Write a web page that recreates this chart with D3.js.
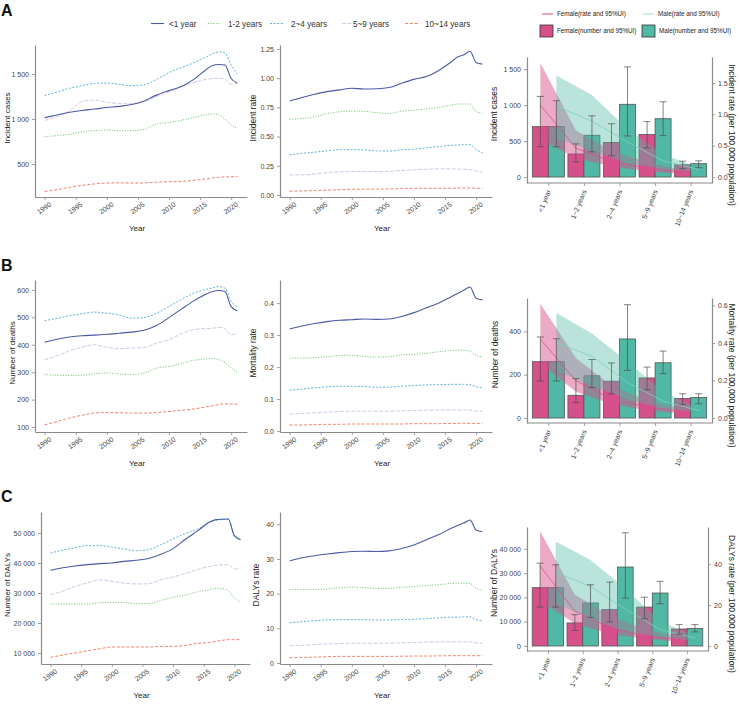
<!DOCTYPE html>
<html><head><meta charset="utf-8">
<script src="https://cdn.jsdelivr.net/npm/d3@7"></script>
<style>
body{margin:0;background:#fff}
svg{font-family:"Liberation Sans",Arial,Helvetica,sans-serif}
</style>
</head><body>
<svg id="c" width="740" height="705"></svg>
<script>
// ---------------- DATA ----------------
const years = [1990,1992,1994,1996,1998,2000,2002,2004,2006,2008,2010,2012,2014,2016,2017,2018,2019,2020,2021];
const yearTicks = [1990,1995,2000,2005,2010,2015,2020];
const ageGroups = ["<1 year","1-2 years","2~4 years","5~9 years","10~14 years"];
const barCategories = ["<1 year","1~2 years","2~4 years","5~9 years","10~14 years"];

// Row A: incidence (order = ageGroups)
const incidentCases = [
  [1015,1045,1075,1095,1110,1127,1140,1160,1200,1265,1315,1360,1440,1550,1595,1605,1600,1450,1400],
  [802,815,830,858,872,877,869,870,884,945,962,985,1015,1050,1055,1048,1000,935,896],
  [1261,1300,1340,1370,1395,1399,1385,1370,1380,1440,1515,1570,1625,1690,1725,1745,1735,1600,1500],
  [985,1025,1090,1195,1210,1185,1172,1168,1190,1250,1300,1360,1405,1440,1450,1455,1445,1385,1400],
  [194,215,240,262,278,288,290,288,290,298,303,306,318,335,345,352,355,358,362]
];
const incidentRate = [
  [0.805,0.835,0.862,0.885,0.900,0.914,0.908,0.910,0.920,0.957,0.990,1.014,1.066,1.140,1.181,1.201,1.230,1.135,1.120],
  [0.649,0.655,0.668,0.698,0.712,0.718,0.716,0.705,0.698,0.718,0.727,0.736,0.750,0.770,0.779,0.779,0.779,0.713,0.700],
  [0.345,0.357,0.367,0.378,0.388,0.388,0.386,0.378,0.376,0.388,0.392,0.405,0.415,0.425,0.428,0.431,0.431,0.388,0.362],
  [0.172,0.172,0.180,0.192,0.198,0.201,0.201,0.201,0.203,0.210,0.216,0.220,0.224,0.223,0.222,0.220,0.218,0.204,0.198],
  [0.032,0.035,0.038,0.041,0.045,0.049,0.050,0.051,0.052,0.055,0.057,0.057,0.057,0.058,0.059,0.060,0.060,0.058,0.055]
];
const femaleIncCases   = [700,320,480,590,170];
const femaleIncCasesLo = [420,210,295,405,115];
const femaleIncCasesHi = [1120,460,740,770,220];
const maleIncCases     = [700,580,1010,810,185];
const maleIncCasesLo   = [420,350,570,575,130];
const maleIncCasesHi   = [1060,850,1530,1045,225];
const femaleIncRate    = [1.15,0.46,0.25,0.14,0.08];
const femaleIncRateLo  = [0.60,0.30,0.17,0.09,0.05];
const femaleIncRateHi  = [1.82,0.74,0.42,0.24,0.11];
const maleIncRate      = [1.13,0.89,0.56,0.26,0.12];
const maleIncRateLo    = [0.62,0.42,0.22,0.13,0.08];
const maleIncRateHi    = [1.62,1.31,0.76,0.36,0.15];

// Row B: deaths
const deathCases = [
  [409,420,428,433,435,438,442,446,453,470,499,530,560,585,594,598,594,539,524],
  [291,289,288,289,294,297,293,292,297,315,321,332,343,348,350,346,335,315,299],
  [488,496,506,513,519,515,509,497,499,515,539,565,588,602,607,612,606,557,539],
  [345,360,378,391,400,391,385,388,390,406,418,440,455,459,460,463,460,436,442],
  [108,120,133,143,151,153,152,151,151,153,157,161,166,174,178,182,185,184,183]
];
const mortalityRate = [
  [0.319,0.328,0.336,0.342,0.346,0.348,0.350,0.349,0.350,0.358,0.370,0.385,0.400,0.420,0.430,0.440,0.450,0.415,0.410],
  [0.228,0.228,0.229,0.232,0.236,0.237,0.233,0.231,0.232,0.238,0.240,0.243,0.248,0.252,0.253,0.252,0.250,0.236,0.232],
  [0.128,0.131,0.135,0.138,0.140,0.140,0.139,0.137,0.137,0.140,0.142,0.144,0.145,0.146,0.146,0.146,0.145,0.138,0.135],
  [0.053,0.055,0.057,0.059,0.061,0.062,0.062,0.062,0.062,0.063,0.064,0.065,0.066,0.066,0.066,0.066,0.065,0.062,0.062],
  [0.019,0.019,0.020,0.021,0.021,0.022,0.022,0.022,0.022,0.022,0.023,0.023,0.023,0.024,0.024,0.024,0.024,0.024,0.024]
];
const femaleDeaths   = [260,105,170,185,90];
const femaleDeathsLo = [171,71,112,131,63];
const femaleDeathsHi = [374,182,254,235,112];
const maleDeaths     = [260,195,365,255,95];
const maleDeathsLo   = [171,141,220,205,66];
const maleDeathsHi   = [366,270,523,309,112];
const femaleMortRate   = [0.42,0.20,0.10,0.06,0.035];
const femaleMortRateLo = [0.29,0.14,0.075,0.04,0.022];
const femaleMortRateHi = [0.61,0.32,0.17,0.095,0.05];
const maleMortRate     = [0.40,0.33,0.19,0.09,0.04];
const maleMortRateLo   = [0.25,0.17,0.10,0.05,0.03];
const maleMortRateHi   = [0.56,0.45,0.30,0.14,0.05];

// Row C: DALYs
const dalyCases = [
  [37556,38400,39000,39444,39800,40000,40556,40900,41500,42900,44800,47900,50700,53667,54444,54600,54667,49111,47778],
  [26333,26333,26333,26333,26700,26889,26800,26500,26500,27500,28556,29300,30400,31111,31556,31400,30889,28333,27000],
  [43333,44300,45100,45778,45800,45333,44667,44111,44444,46111,48000,49800,51300,53667,54222,54500,54667,48889,47778],
  [29444,30600,32200,33333,34400,33889,33300,33000,33111,34444,35300,36500,37800,38889,39222,39400,39444,38000,38111],
  [8556,9300,10000,10700,11400,12000,12000,12000,12000,12200,12222,12500,13200,13556,13889,14200,14444,14444,14444]
];
const dalyRate = [
  [29.4,30.3,30.9,31.4,31.8,32.1,32.2,32.1,32.3,33.0,34.0,35.5,37.0,38.8,39.6,40.3,41.2,38.3,37.8],
  [21.2,21.2,21.2,21.3,21.7,21.9,21.7,21.5,21.5,21.8,22.0,22.3,22.6,22.9,23.0,23.0,22.9,21.5,21.0],
  [11.6,11.9,12.2,12.4,12.5,12.5,12.5,12.4,12.4,12.5,12.6,12.8,13.0,13.2,13.2,13.3,13.3,12.5,12.1],
  [5.0,5.1,5.3,5.5,5.6,5.7,5.7,5.7,5.7,5.8,5.9,6.0,6.1,6.1,6.1,6.1,6.1,5.8,5.7],
  [1.5,1.6,1.7,1.8,1.9,1.9,1.9,1.9,1.9,1.95,2.0,2.0,2.05,2.1,2.1,2.1,2.1,2.1,2.1]
];
const femaleDalys   = [24000,9500,15000,16000,7000];
const femaleDalysLo = [16000,6400,9900,11200,4800];
const femaleDalysHi = [34100,12900,26300,20100,8800];
const maleDalys     = [24000,17700,32500,21800,7200];
const maleDalysLo   = [16000,11800,19700,17400,5800];
const maleDalysHi   = [33400,25200,46600,26600,8800];
const femaleDalyRate   = [39,17,9,5,3];
const femaleDalyRateLo = [22,11,6,3.5,2];
const femaleDalyRateHi = [56,25,15,8,4.5];
const maleDalyRate     = [36,29,18,8,4];
const maleDalyRateLo   = [21,13,7,4.5,2.5];
const maleDalyRateHi   = [51,42,28,12,5];

// ---------------- STYLE ----------------
const lineColors = ["#4a5aa8","#6cc06a","#5fb3d9","#d9c4e4","#f0836a"];
const lineDash   = [null,"1,1.6","2,1.6","4,1.6","3,1.8"];
const femaleCol = "#d6508a", maleCol = "#50b8a4";
const axisCol = "#8a8a8a", tickTextCol = "#444", titleCol = "#222";

const svg = d3.select("#c");
const fmtSpace = d => d3.format(",")(d).replace(/,/g, " ");

function styleAxis(g) {
  g.select(".domain").attr("stroke", axisCol).attr("stroke-width", 1.2);
  g.selectAll(".tick line").attr("stroke", axisCol).attr("stroke-width", 0.8);
  g.selectAll(".tick text").attr("fill", tickTextCol).style("font-size", "7px");
}

function vTitle(x, y, text, rot, size) {
  svg.append("text").attr("transform", `translate(${x},${y}) rotate(${rot})`)
    .attr("text-anchor", "middle").attr("fill", titleCol).style("font-size", size + "px").text(text);
}

function linePanel(c) {
  const g = svg.append("g");
  const x = d3.scaleLinear().domain([1990 - 1.55, 2021 + 1.55]).range([c.left, c.right]);
  const y = d3.scaleLinear().domain(c.yDomain).range([c.bottom, c.top]);
  const gx = g.append("g").attr("transform", `translate(0,${c.bottom})`)
    .call(d3.axisBottom(x).tickValues(yearTicks).tickFormat(d3.format("d")).tickSize(3).tickSizeOuter(0));
  styleAxis(gx);
  gx.selectAll(".tick text").attr("y", 0).attr("dy", "0.35em").attr("text-anchor", "middle")
    .attr("transform", "translate(-1,11) rotate(-35)");
  const gy = g.append("g").attr("transform", `translate(${c.left},0)`)
    .call(d3.axisLeft(y).tickValues(c.ticks).tickFormat(c.fmt).tickSize(3).tickSizeOuter(0).tickPadding(3));
  styleAxis(gy);
  const line = d3.line().x((d, j) => x(years[j])).y(d => y(d)).curve(d3.curveMonotoneX);
  c.series.slice().reverse().forEach((vals, ri) => {
    const i = c.series.length - 1 - ri;
    g.append("path").datum(vals).attr("d", line).attr("fill", "none")
      .attr("stroke", lineColors[i]).attr("stroke-width", i === 0 ? 1.1 : 1)
      .attr("stroke-dasharray", lineDash[i]);
  });
  vTitle(c.titleX, (c.top + c.bottom) / 2 - 3, c.title, -90, c.titleSize);
  svg.append("text").attr("x", (c.left + c.right) / 2 - 4).attr("y", c.bottom + 34)
    .attr("text-anchor", "middle").attr("fill", titleCol).style("font-size", "8px").text("Year");
}

function barPanel(c) {
  const g = svg.append("g");
  const x = d3.scalePoint().domain(barCategories).range([c.left, c.right]).padding(0.6);
  const step = x.step();
  const bw = 0.45 * step;
  const y = d3.scaleLinear().domain(c.yDomain).range([c.bottom, c.top]);
  const yr = d3.scaleLinear().domain(c.rDomain).range([c.bottom, c.top]);

  const gx = g.append("g").attr("transform", `translate(0,${c.bottom})`)
    .call(d3.axisBottom(x).tickSize(3).tickSizeOuter(0));
  styleAxis(gx);
  gx.select(".domain").attr("d", `M${c.left},0H${c.right}`);
  gx.selectAll(".tick text").attr("y", 0).attr("dy", "0.35em").attr("text-anchor", "end")
    .attr("transform", "translate(0,7) rotate(-68)");
  const gy = g.append("g").attr("transform", `translate(${c.left},0)`)
    .call(d3.axisLeft(y).tickValues(c.ticks).tickFormat(c.fmt).tickSize(3).tickSizeOuter(0).tickPadding(3));
  styleAxis(gy);
  const gr = g.append("g").attr("transform", `translate(${c.right},0)`)
    .call(d3.axisRight(yr).tickValues(c.rTicks).tickFormat(c.rFmt).tickSize(3).tickSizeOuter(0).tickPadding(3));
  styleAxis(gr);

  const sexes = [
    {v: c.f, lo: c.fLo, hi: c.fHi, r: c.fr, rlo: c.frLo, rhi: c.frHi, col: femaleCol, off: -bw / 2, rib: femaleCol, ribOp: 0.48, lineCol: "#d6508a"},
    {v: c.m, lo: c.mLo, hi: c.mHi, r: c.mr, rlo: c.mrLo, rhi: c.mrHi, col: maleCol, off: bw / 2, rib: maleCol, ribOp: 0.4, lineCol: "#7fcfbf"}
  ];
  sexes.forEach(s => {
    g.selectAll(null).data(barCategories).enter().append("rect")
      .attr("x", (d) => x(d) + s.off - bw / 2).attr("width", bw)
      .attr("y", (d, i) => y(s.v[i])).attr("height", (d, i) => y(0) - y(s.v[i]))
      .attr("fill", s.col).attr("stroke", "#555").attr("stroke-width", 0.8);
  });
  sexes.forEach(s => {
    const area = d3.area().x(d => x(d) + s.off)
      .y0((d, i) => yr(s.rlo[i])).y1((d, i) => yr(s.rhi[i]));
    g.append("path").datum(barCategories).attr("d", area).attr("fill", s.rib).attr("fill-opacity", s.ribOp);
  });
  sexes.forEach(s => {
    const ln = d3.line().x(d => x(d) + s.off).y((d, i) => yr(s.r[i]));
    g.append("path").datum(barCategories).attr("d", ln).attr("fill", "none")
      .attr("stroke", s.lineCol).attr("stroke-width", 0.8);
  });
  const cap = 3.5;
  sexes.forEach(s => {
    barCategories.forEach((d, i) => {
      const cx = x(d) + s.off;
      const eg = g.append("g").attr("stroke", "#4a4a4a").attr("stroke-width", 0.8).attr("stroke-opacity", 0.85);
      eg.append("line").attr("x1", cx).attr("x2", cx).attr("y1", y(s.lo[i])).attr("y2", y(s.hi[i]));
      eg.append("line").attr("x1", cx - cap).attr("x2", cx + cap).attr("y1", y(s.lo[i])).attr("y2", y(s.lo[i]));
      eg.append("line").attr("x1", cx - cap).attr("x2", cx + cap).attr("y1", y(s.hi[i])).attr("y2", y(s.hi[i]));
    });
  });
  vTitle(c.titleX, (c.top + c.bottom) / 2 - 6, c.title, -90, 8.5);
  vTitle(c.rTitleX, (c.top + c.bottom) / 2 + 15, c.rTitle, 90, 8.5);
}

// ---------------- PANEL LABELS & LEGENDS ----------------
[["A", 16], ["B", 271], ["C", 502]].forEach(([t, yy]) =>
  svg.append("text").attr("x", 1).attr("y", yy).style("font-size", "16px").style("font-weight", "bold").attr("fill", "#111").text(t));

const legX = [151, 208, 270, 342, 405];
const legTX = [169, 228, 291, 353, 425];
ageGroups.forEach((a, i) => {
  svg.append("line").attr("x1", legX[i]).attr("x2", legX[i] + 13).attr("y1", 23.5).attr("y2", 23.5)
    .attr("stroke", lineColors[i]).attr("stroke-width", 1.1).attr("stroke-dasharray", lineDash[i]);
  svg.append("text").attr("x", legTX[i]).attr("y", 26.5).attr("fill", "#333").style("font-size", "8.2px").text(a);
});

const rightLegend = [
  {type: "line", col: femaleCol, x: 542, y: 14, text: "Female(rate and 95%UI)"},
  {type: "line", col: "#9fdcce", x: 643, y: 14, text: "Male(rate and 95%UI)"},
  {type: "box", col: femaleCol, x: 540, y: 31, text: "Female(number and 95%UI)"},
  {type: "box", col: maleCol, x: 642, y: 31, text: "Male(number and 95%UI)"}
];
rightLegend.forEach(l => {
  if (l.type === "line") {
    svg.append("line").attr("x1", l.x).attr("x2", l.x + 11).attr("y1", l.y).attr("y2", l.y)
      .attr("stroke", l.col).attr("stroke-width", 1);
  } else {
    svg.append("rect").attr("x", l.x).attr("y", l.y - 6).attr("width", 13).attr("height", 12)
      .attr("fill", l.col).attr("stroke", "#333").attr("stroke-width", 0.8);
  }
  svg.append("text").attr("y", l.y + 2.2).attr("x", l.x + (l.type === "line" ? 15 : 17))
    .attr("fill", "#222").style("font-size", "6.3px").text(l.text);
});

// ---------------- PANELS ----------------
const f1 = d3.format(".1f"), f2 = d3.format(".2f");
// Row A
linePanel({left: 35, right: 247, top: 45, bottom: 197, yDomain: [133, 1822], ticks: [500, 1000, 1500], fmt: fmtSpace,
  series: incidentCases, title: "Incident cases", titleX: 10, titleSize: 8});
linePanel({left: 280, right: 492, top: 45, bottom: 197, yDomain: [-0.017, 1.284], ticks: [0, 0.25, 0.5, 0.75, 1, 1.25], fmt: f2,
  series: incidentRate, title: "Incident rate", titleX: 256, titleSize: 8.5});
barPanel({left: 527, right: 712, top: 57, bottom: 183, yDomain: [-83, 1667], rDomain: [-0.0953, 1.914],
  ticks: [0, 500, 1000, 1500], fmt: fmtSpace, rTicks: [0, 0.5, 1, 1.5], rFmt: f1,
  f: femaleIncCases, fLo: femaleIncCasesLo, fHi: femaleIncCasesHi, m: maleIncCases, mLo: maleIncCasesLo, mHi: maleIncCasesHi,
  fr: femaleIncRate, frLo: femaleIncRateLo, frHi: femaleIncRateHi, mr: maleIncRate, mrLo: maleIncRateLo, mrHi: maleIncRateHi,
  title: "Incident cases", titleX: 497, rTitle: "Incident rate (per 100,000 population)", rTitleX: 729});
// Row B
linePanel({left: 35, right: 247, top: 280, bottom: 432, yDomain: [82, 636], ticks: [100, 200, 300, 400, 500, 600], fmt: fmtSpace,
  series: deathCases, title: "Number of deaths", titleX: 15, titleSize: 8});
linePanel({left: 280, right: 492, top: 280, bottom: 432, yDomain: [-0.003, 0.472], ticks: [0, 0.1, 0.2, 0.3, 0.4], fmt: f1,
  series: mortalityRate, title: "Mortality rate", titleX: 256, titleSize: 8.5});
barPanel({left: 527, right: 712, top: 298, bottom: 423, yDomain: [-23, 554], rDomain: [-0.0267, 0.64],
  ticks: [0, 200, 400], fmt: fmtSpace, rTicks: [0, 0.2, 0.4, 0.6], rFmt: f1,
  f: femaleDeaths, fLo: femaleDeathsLo, fHi: femaleDeathsHi, m: maleDeaths, mLo: maleDeathsLo, mHi: maleDeathsHi,
  fr: femaleMortRate, frLo: femaleMortRateLo, frHi: femaleMortRateHi, mr: maleMortRate, mrLo: maleMortRateLo, mrHi: maleMortRateHi,
  title: "Number of deaths", titleX: 498, rTitle: "Mortality rate (per 100,000 population)", rTitleX: 729});
// Row C
linePanel({left: 41, right: 250, top: 512, bottom: 664, yDomain: [6333, 57000], ticks: [10000, 20000, 30000, 40000, 50000], fmt: fmtSpace,
  series: dalyCases, title: "Number of DALYs", titleX: 10, titleSize: 8});
linePanel({left: 280, right: 492, top: 512, bottom: 664, yDomain: [-0.29, 43.5], ticks: [0, 10, 20, 30, 40], fmt: d3.format("d"),
  series: dalyRate, title: "DALYs rate", titleX: 259, titleSize: 8.5});
barPanel({left: 527, right: 708, top: 527, bottom: 651, yDomain: [-2058, 48971], rDomain: [-2.44, 58.05],
  ticks: [0, 10000, 20000, 30000, 40000], fmt: fmtSpace, rTicks: [0, 20, 40], rFmt: d3.format("d"),
  f: femaleDalys, fLo: femaleDalysLo, fHi: femaleDalysHi, m: maleDalys, mLo: maleDalysLo, mHi: maleDalysHi,
  fr: femaleDalyRate, frLo: femaleDalyRateLo, frHi: femaleDalyRateHi, mr: maleDalyRate, mrLo: maleDalyRateLo, mrHi: maleDalyRateHi,
  title: "Number of DALYs", titleX: 497, rTitle: "DALYs rate (per 100,000 population)", rTitleX: 729});
</script>
</body></html>
